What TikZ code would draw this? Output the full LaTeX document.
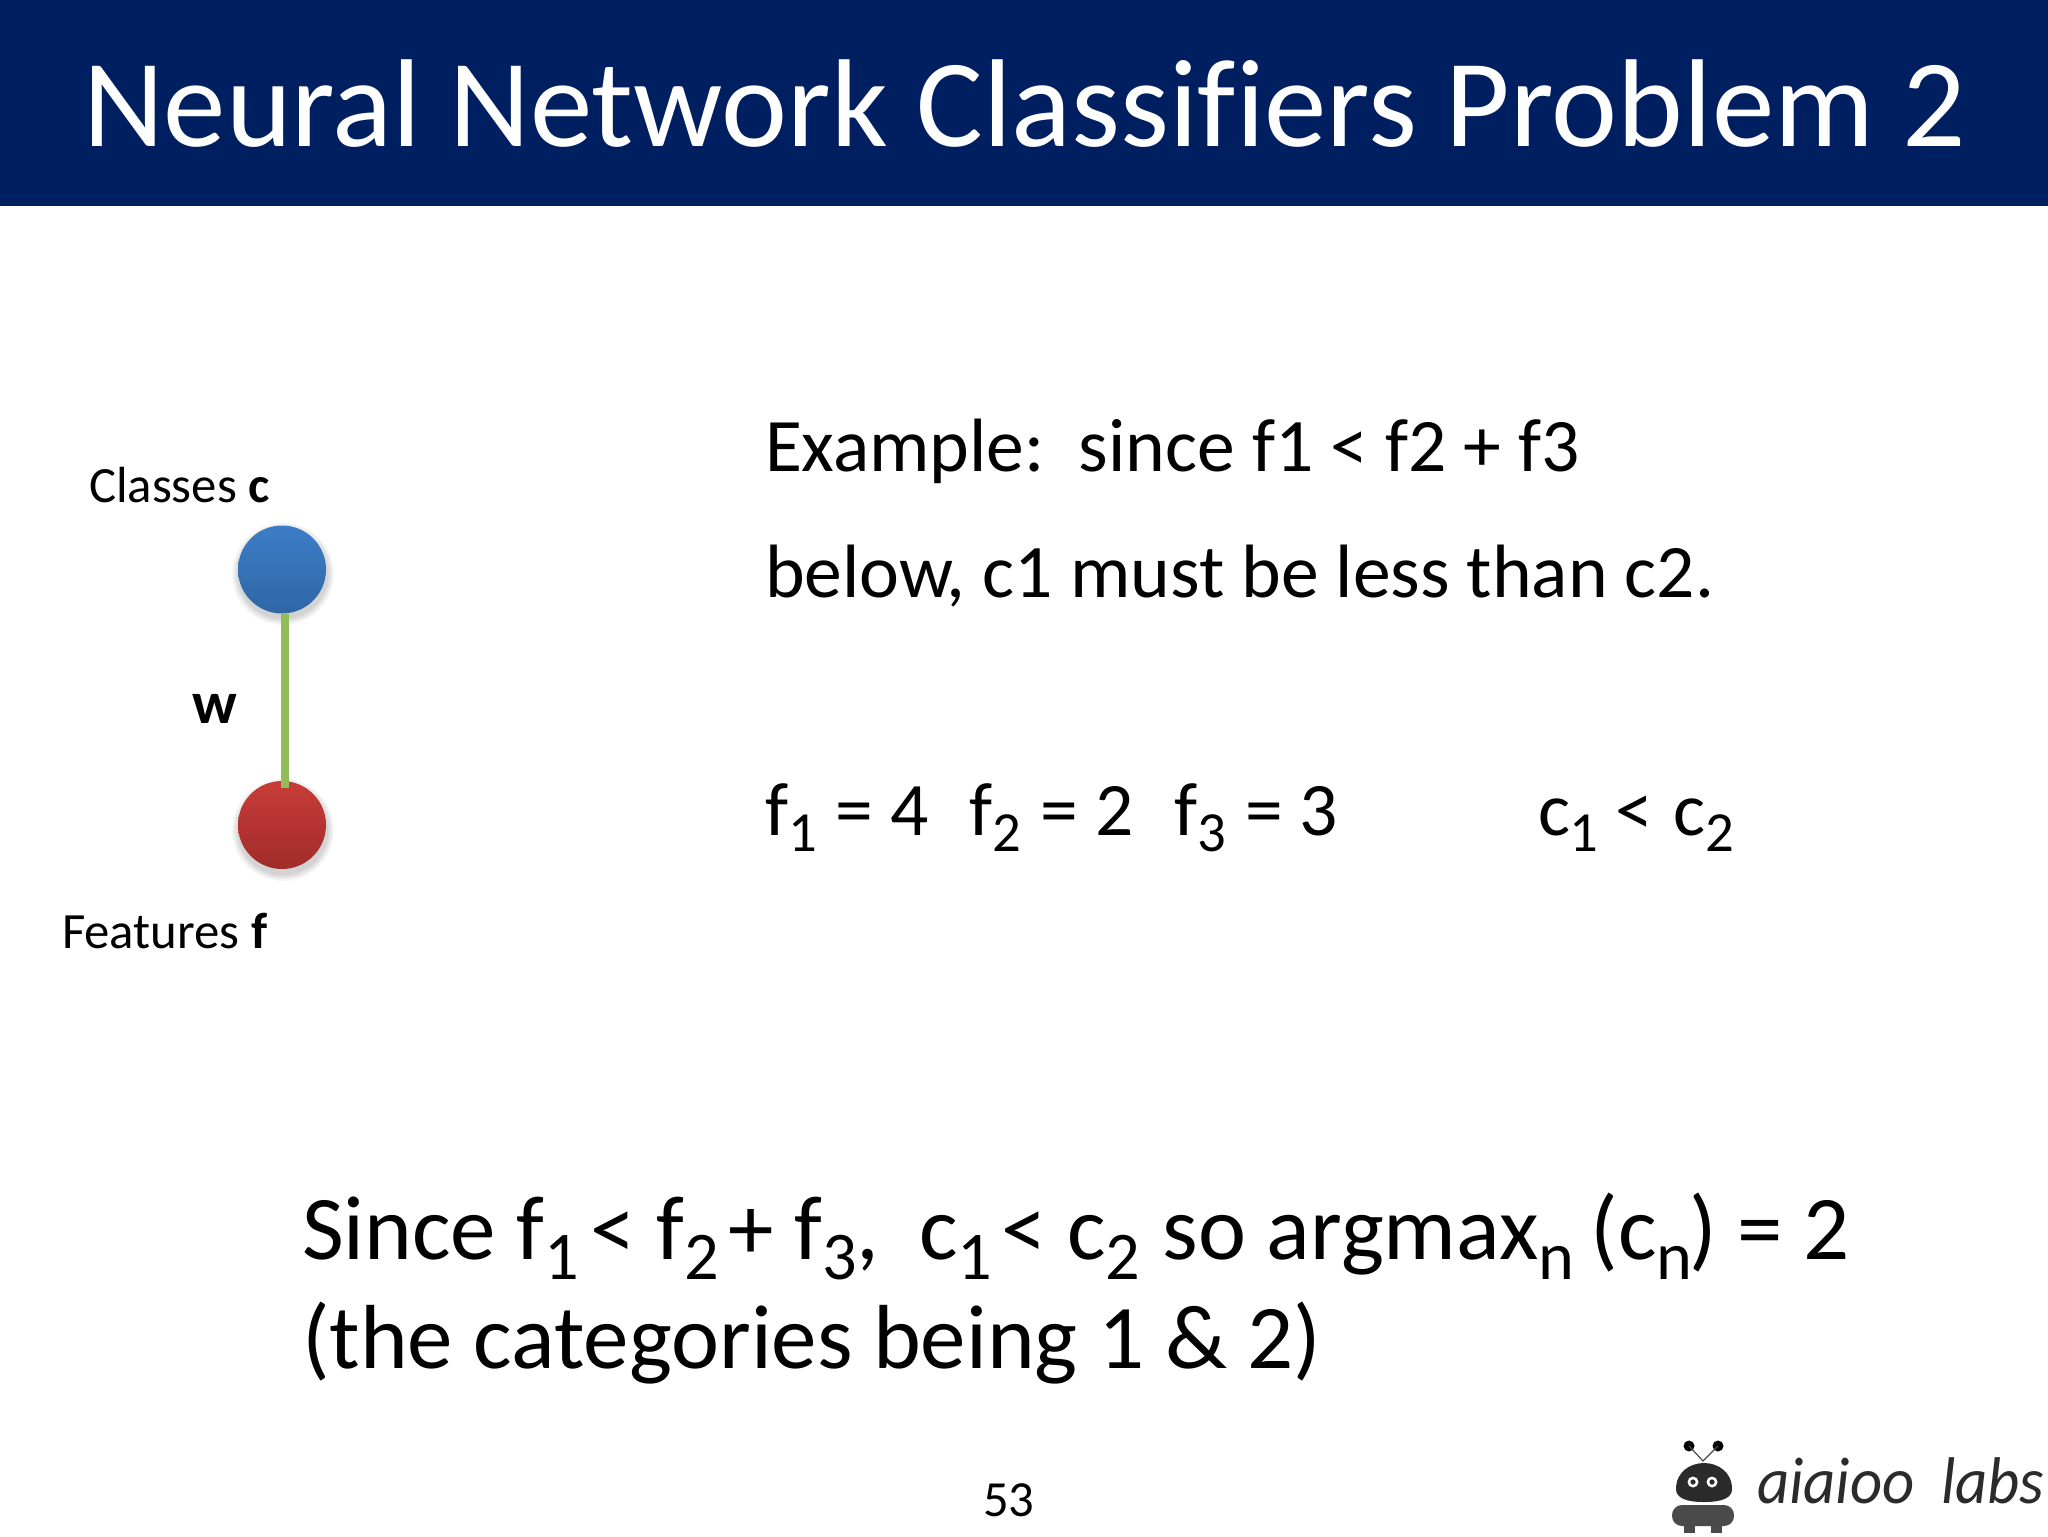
\documentclass[tikz,border=0pt]{standalone}
\usepackage{fontspec}
\setmainfont[Ligatures=CommonOff]{Carlito}
\definecolor{banner}{HTML}{001F60}
\definecolor{edgegreen}{HTML}{94BB5A}
\definecolor{logodark}{HTML}{2B2B2B}
\definecolor{logobody}{HTML}{4A4A4A}
\definecolor{blueT}{RGB}{60,125,198}
\definecolor{blueB}{RGB}{47,102,166}
\definecolor{redT}{RGB}{200,60,56}
\definecolor{redB}{RGB}{160,44,42}
\newcommand{\sbs}[1]{\raisebox{-0.22em}{\scalebox{0.75}{#1}}}
\tikzset{
  txt/.style={anchor=base west,inner sep=0pt,outer sep=0pt,text=black},
  title/.style={txt,text=white,font=\fontsize{62.5}{70}\selectfont},
  body/.style={txt,font=\fontsize{37.8}{44}\selectfont},
  big/.style={txt,font=\fontsize{45.5}{54}\selectfont},
  small/.style={txt,font=\fontsize{25.4}{30}\selectfont},
  ball/.style={circle,minimum size=44pt,inner sep=0pt,draw=none},
  softshadow/.style={fill=black,opacity=0.035,circle,minimum size=#1,inner sep=0pt,draw=none},
  edge/.style={draw=edgegreen,line width=3.7pt},
}
\begin{document}
\begin{tikzpicture}[x=0.5pt,y=-0.5pt]
\useasboundingbox (0,0) rectangle (2048,1536);
\fill[white] (0,0) rectangle (2048,1536);
\fill[banner] (0,0) rectangle (2048,206);
\node[title] (ttl) at (83,147) {Neural Network Classifiers Problem 2};
% ball shadows
\foreach \s in {51pt,49.5pt,48pt,46.5pt,45pt}{
  \node[softshadow=\s] at (283,574) {};
  \node[softshadow=\s] at (283,830) {};
}
\node[ball,shade,top color=blueT,bottom color=blueB] (cls) at (282,569.5) {};
\node[ball,shade,top color=redT,bottom color=redB] (fea) at (282,825) {};
\coordinate (et) at ([xshift=1.5pt]cls.south);
\coordinate (eb) at ([xshift=1.5pt,yshift=-3.5pt]fea.north);
\draw[edge] (et) -- (eb);
\node[small] (lc) at (89,502) {Classes \textbf{c}};
\node[txt,font=\bfseries\fontsize{30}{34}\selectfont] (lw) at (192,723) {w};
\node[small] (lf) at (62,948) {Features \textbf{f}};
% right text
\node[body] (t1) at (765,471) {Example:\ \ since f1 < f2 + f3};
\node[body] (t2) at (765,597) {below, c1 must be less than c2.};
\node[body] (t3) at (765,835) {f\sbs{1}\kern1pt{} = 4\kern3.2pt\ \ f\sbs{2}\kern1pt{} = 2\kern3.2pt\ \ f\sbs{3}\kern1pt{} = 3};
\node[body] (t4) at (1538,835) {c\sbs{1} < \kern1.5pt{}c\sbs{2}};
\node[big] (t5) at (302,1259) {Since f\sbs{1}\kern5.6pt{}< f\sbs{2}\kern4.9pt{}+ f\sbs{3},\kern19.8pt{}c\sbs{1}\kern4.6pt{}< c\sbs{2}\kern11.3pt{}so argmax\sbs{n}\kern8.1pt{}(c\sbs{n}\kern-1.5pt{}) = 2};
\node[big] (t6) at (302,1368) {(the categories being 1 \& 2)};
\node[txt,font=\fontsize{25.3}{30}\selectfont] (pg) at (983,1516) {53};
% logo
\fill[black] (1689,1446) circle (5.5);
\fill[black] (1718,1446) circle (5.5);
\draw[logobody,line width=0.6pt] (1689,1446) -- (1703,1461) -- (1718,1446);
\fill[logodark] (1676,1489) .. controls (1676,1472) and (1690,1463) .. (1704,1463) .. controls (1718,1463) and (1732,1472) .. (1732,1489) .. controls (1732,1498) and (1722,1502) .. (1704,1502) .. controls (1686,1502) and (1676,1498) .. (1676,1489) -- cycle;
\fill[white] (1693,1482) circle (5.5);
\fill[white] (1712,1482) circle (5.5);
\fill[logodark] (1693,1482) circle (2.6);
\fill[logodark] (1712,1482) circle (2.6);
\fill[logobody,rounded corners=5pt] (1672,1505) rectangle (1734,1526);
\fill[logobody] (1684,1522) rectangle (1695,1533);
\fill[logobody] (1711,1522) rectangle (1722,1533);
\node[txt,text=logodark,font=\itshape\fontsize{33}{38}\selectfont] (lg) at (1757,1503) {\scalebox{0.95}[1]{aiaioo\kern14pt{}labs}};
\end{tikzpicture}
\end{document}
